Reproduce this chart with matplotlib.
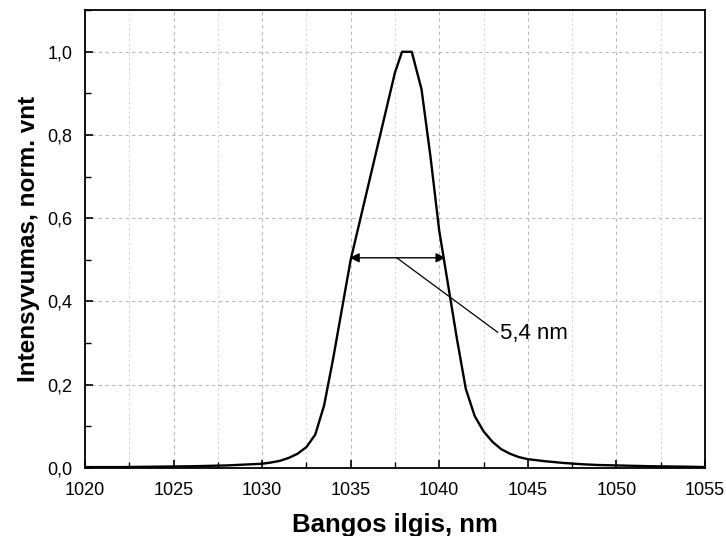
import matplotlib
matplotlib.use("Agg")
import matplotlib.pyplot as plt
from matplotlib.ticker import MultipleLocator, FuncFormatter

# spektro duomenys
wl = [1020, 1022, 1024, 1026, 1028, 1029, 1030, 1030.5, 1031, 1031.5,
      1032, 1032.5, 1033, 1033.5, 1034, 1034.5, 1035, 1035.5, 1036, 1036.5,
      1037, 1037.5, 1037.9, 1038.45, 1039, 1039.5, 1040, 1040.5, 1041, 1041.5,
      1042, 1042.5, 1043, 1043.5, 1044, 1044.5, 1045, 1046, 1047, 1048,
      1049, 1050, 1052, 1054, 1055]
intensity = [0.002, 0.002, 0.003, 0.004, 0.006, 0.008, 0.010, 0.013, 0.017, 0.024,
             0.034, 0.050, 0.080, 0.150, 0.26, 0.38, 0.50, 0.59, 0.68, 0.77,
             0.86, 0.95, 1.0, 1.0, 0.91, 0.75, 0.57, 0.44, 0.31, 0.19,
             0.125, 0.088, 0.063, 0.045, 0.034, 0.026, 0.021, 0.016, 0.012, 0.009,
             0.007, 0.006, 0.004, 0.003, 0.002]

fwhm_left = 1034.95
fwhm_right = 1040.35
half_level = 0.505
label_text = "5,4 nm"

plt.rcParams['font.family'] = ['Liberation Sans', 'DejaVu Sans']

fig = plt.figure(figsize=(7.26, 5.36), dpi=100)
ax = fig.add_axes([0.117, 0.127, 0.854, 0.854])

ax.plot(wl, intensity, color='black', lw=1.7)

# FWHM rodykle
ax.annotate('', xy=(fwhm_left, half_level), xytext=(fwhm_right, half_level),
            arrowprops=dict(arrowstyle='<|-|>', color='black', lw=1.0,
                            mutation_scale=14, shrinkA=0, shrinkB=0))
ax.plot([1037.6, 1043.3], [half_level, 0.326], color='black', lw=0.9)
ax.text(1043.45, 0.322, label_text, fontsize=16, va='center', ha='left')

ax.set_xlim(1020, 1055)
ax.set_ylim(0, 1.1)
ax.xaxis.set_major_locator(MultipleLocator(5))
ax.xaxis.set_minor_locator(MultipleLocator(2.5))
ax.yaxis.set_major_locator(MultipleLocator(0.2))
ax.yaxis.set_minor_locator(MultipleLocator(0.1))
ax.yaxis.set_major_formatter(FuncFormatter(lambda v, p: ('%.1f' % v).replace('.', ',')))

ax.grid(which='major', color='#b8b8b8', ls=(0, (3, 3)), lw=0.8)
ax.grid(which='minor', axis='x', color='#d0d0d0', ls=(0, (2, 3)), lw=0.7)

ax.tick_params(which='major', direction='in', length=6, width=1.2, labelsize=13)
ax.tick_params(axis='x', which='major', pad=10)
ax.tick_params(axis='y', which='major', pad=9)
ax.tick_params(which='minor', direction='in', length=4, width=1.0)
for s in ax.spines.values():
    s.set_linewidth(1.3)

ax.set_xlabel('Bangos ilgis, nm', fontsize=18.5, fontweight='bold', labelpad=10)
ax.set_ylabel('Intensyvumas, norm. vnt', fontsize=17.5, fontweight='bold', labelpad=5)

fig.savefig('out.png', dpi=100)
